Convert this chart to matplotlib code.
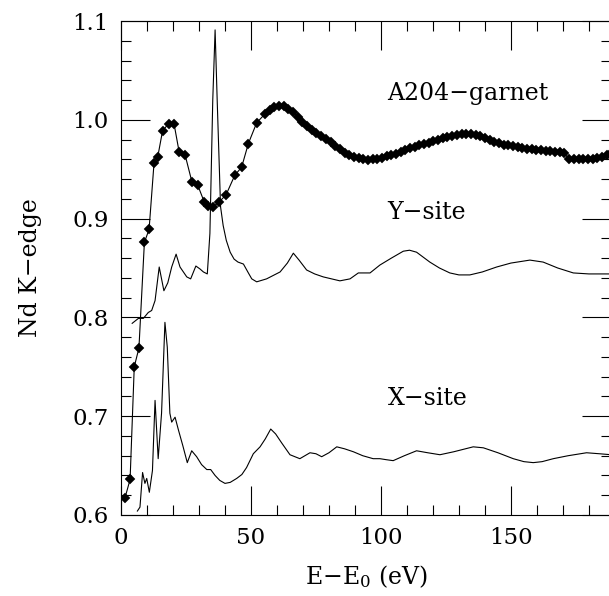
import matplotlib
matplotlib.use("Agg")
import matplotlib.pyplot as plt
from matplotlib.ticker import MultipleLocator

plt.rcParams['font.family'] = ['DejaVu Serif']
plt.rcParams['mathtext.fontset'] = 'dejavuserif'

# A204-garnet (measured, diamonds)
garnet_x = [1.5, 3.5, 5.1, 6.9, 9.0, 10.8, 12.7, 14.1, 16.0, 18.3, 20.4, 22.4, 24.7, 27.3,
            29.5, 32.0, 33.6, 35.5, 37.8, 40.4, 43.8, 46.4, 49.0, 52.2,
            55.4, 57.2, 59.0, 60.8, 62.6, 64.4, 66.2, 68.0, 69.8, 71.6, 73.4, 75.2, 77.0,
            78.8, 80.6, 82.4, 84.2, 86.0, 87.8, 89.6, 91.4, 93.2, 95.0, 96.8, 98.6, 100.4,
            102.2, 104.0, 105.8, 107.6, 109.4, 111.2, 113.0, 114.8, 116.6, 118.4, 120.2,
            122.0, 123.8, 125.6, 127.4, 129.2, 131.0, 132.8, 134.6, 136.4, 138.2, 140.0,
            141.8, 143.6, 145.4, 147.2, 149.0, 150.8, 152.6, 154.4, 156.2, 158.0, 159.8,
            161.6, 163.4, 165.2, 167.0, 168.8, 170.6, 172.4, 174.2, 176.0, 177.8, 179.6,
            181.4, 183.2, 185.0, 186.8, 188.6]
garnet_y = [0.617, 0.636, 0.750, 0.769, 0.876, 0.889, 0.956, 0.962, 0.989, 0.996, 0.996,
            0.967, 0.964, 0.937, 0.934, 0.917, 0.913, 0.912, 0.917, 0.924, 0.944, 0.952,
            0.976, 0.997,
            1.006, 1.010, 1.013, 1.014, 1.014, 1.011, 1.008, 1.003, 0.998, 0.994, 0.990,
            0.987, 0.984, 0.981, 0.978, 0.973, 0.970, 0.966, 0.964, 0.962, 0.961, 0.960,
            0.959, 0.960, 0.960, 0.961, 0.963, 0.964, 0.965, 0.967, 0.969, 0.971, 0.972,
            0.974, 0.976, 0.977, 0.979, 0.980, 0.982, 0.983, 0.984, 0.985, 0.986, 0.986,
            0.986, 0.985, 0.984, 0.982, 0.980, 0.978, 0.977, 0.975, 0.974, 0.973, 0.972,
            0.971, 0.970, 0.970, 0.969, 0.969, 0.968, 0.968, 0.967, 0.967, 0.966, 0.960,
            0.960, 0.960, 0.960, 0.960, 0.960, 0.961, 0.962, 0.964, 0.966]

# Y-site calculation
ysite_x = [4.3, 6.7, 8.6, 10.5, 11.8, 13.1, 14.7, 16.5, 18.0, 19.5, 21.2, 22.7, 25.3, 26.8,
           28.8, 30.4, 31.7, 33.2, 34.2, 35.3, 36.2, 37.0, 38.3, 39.3, 40.5, 42.0, 43.5,
           45.0, 47.1, 49.0, 50.3, 52.2, 56.0, 61.2, 64.0, 66.3, 68.5, 71.4, 74.5, 77.8,
           81.0, 84.2, 88.1, 91.3, 95.8, 99.6, 104.0, 108.6, 111.0, 113.7, 118.8, 122.5,
           126.5, 130.0, 134.2, 139.0, 144.5, 150.0, 157.3, 162.4, 168.0, 174.0, 180.0,
           188.6]
ysite_y = [0.794, 0.799, 0.799, 0.805, 0.807, 0.817, 0.851, 0.827, 0.835, 0.851, 0.864,
           0.851, 0.841, 0.839, 0.852, 0.849, 0.846, 0.844, 0.885, 1.020, 1.091, 1.020,
           0.912, 0.893, 0.878, 0.866, 0.859, 0.856, 0.854, 0.845, 0.839, 0.836, 0.839,
           0.846, 0.855, 0.865, 0.858, 0.848, 0.844, 0.841, 0.839, 0.837, 0.839, 0.845,
           0.845, 0.853, 0.860, 0.867, 0.868, 0.866, 0.856, 0.850, 0.845, 0.843, 0.843,
           0.846, 0.851, 0.855, 0.858, 0.856, 0.850, 0.845, 0.844, 0.844]

# X-site calculation
xsite_x = [6.3, 7.3, 8.3, 9.2, 9.9, 10.9, 12.1, 13.1, 14.3, 15.6, 16.9, 17.8, 18.8, 19.5,
           20.8, 22.1, 23.8, 25.5, 27.2, 29.1, 31.0, 33.0, 34.5, 36.2, 38.0, 40.0, 42.0,
           44.5, 46.5, 48.3, 50.9, 53.5, 55.5, 57.6, 59.5, 61.8, 65.0, 68.8, 72.7, 75.0,
           77.2, 80.0, 83.0, 86.0, 89.4, 93.0, 97.0, 99.6, 102.0, 104.7, 109.0, 113.7,
           118.0, 122.7, 128.0, 135.5, 139.4, 145.0, 150.9, 155.0, 158.6, 162.0, 166.3,
           172.0, 179.1, 184.0, 188.6]
xsite_y = [0.604, 0.608, 0.643, 0.632, 0.637, 0.623, 0.645, 0.716, 0.657, 0.703, 0.795,
           0.770, 0.703, 0.694, 0.699, 0.686, 0.670, 0.653, 0.665, 0.659, 0.651, 0.646,
           0.646, 0.640, 0.635, 0.632, 0.633, 0.637, 0.641, 0.648, 0.662, 0.669, 0.677,
           0.687, 0.682, 0.673, 0.661, 0.657, 0.663, 0.662, 0.659, 0.663, 0.669, 0.667,
           0.664, 0.660, 0.657, 0.657, 0.656, 0.655, 0.660, 0.665, 0.663, 0.661, 0.664,
           0.669, 0.668, 0.663, 0.657, 0.654, 0.653, 0.654, 0.657, 0.660, 0.663, 0.662,
           0.661]

labels = ["A204\u2212garnet", "Y\u2212site", "X\u2212site"]
label_pos = [(102.5, 1.027), (102.5, 0.906), (102.5, 0.718)]

fig = plt.figure(figsize=(6.09, 5.96), dpi=100)
ax = fig.add_axes([121/609, 1 - 515/596, 490/609, (515 - 21)/596])

ax.plot(ysite_x, ysite_y, color='black', lw=0.8)
ax.plot(xsite_x, xsite_y, color='black', lw=0.8)
ax.plot(garnet_x, garnet_y, color='black', lw=0.8, marker='D', markersize=5.5,
        markerfacecolor='black', markeredgecolor='black', markeredgewidth=0.3)

for t, (tx, ty) in zip(labels, label_pos):
    ax.text(tx, ty, t, fontsize=17, va='center', ha='left')

ax.set_xlim(0, 188.5)
ax.set_ylim(0.6, 1.1)
ax.xaxis.set_major_locator(MultipleLocator(50))
ax.xaxis.set_minor_locator(MultipleLocator(10))
ax.yaxis.set_major_locator(MultipleLocator(0.1))
ax.yaxis.set_minor_locator(MultipleLocator(0.02))
ax.yaxis.set_major_formatter(plt.FuncFormatter(lambda v, p: f"{v:.1f}"))
ax.tick_params(which='both', direction='in', top=True, right=True, width=0.8,
               labelsize=16.5, pad=9)
ax.tick_params(which='major', length=21)
ax.tick_params(which='minor', length=7.5)
for s in ax.spines.values():
    s.set_linewidth(0.8)

ax.set_xlabel("E\u2212E$_0$ (eV)", fontsize=17, labelpad=10)
ax.set_ylabel("Nd K\u2212edge", fontsize=17, labelpad=22)

fig.savefig("out.png", dpi=100)
